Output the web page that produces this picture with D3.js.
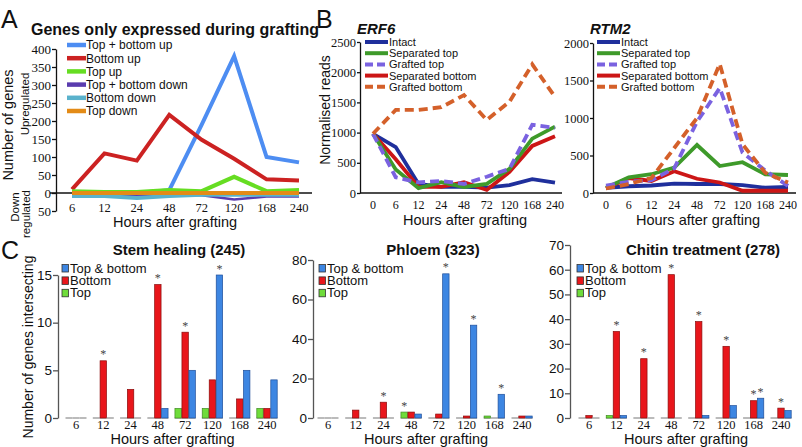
<!DOCTYPE html>
<html><head><meta charset="utf-8">
<script src="https://cdn.jsdelivr.net/npm/d3@7"></script>
<style>
body{margin:0;background:#fff}
svg{display:block}
text{font-family:"Liberation Sans",Arial,sans-serif;fill:#111}
</style></head><body>
<svg id="c" width="802" height="447"></svg>
<script>
const SERIF = '"Liberation Serif","Times New Roman",serif';
// ---------- Panel A data ----------
const hoursA = ["6","12","24","48","72","120","168","240"];
const namesA = ["Top + bottom up","Bottom up","Top up","Top + bottom down","Bottom down","Top down"];
const colorsA = ["#4d8df2","#cc2222","#66dd22","#5a3cae","#5ab2cc","#e38b17"];
const topBottomUp   = [0,0,0,8,190,380,100,85];
const bottomUp      = [10,110,90,217,148,95,38,35];
const topUp         = [5,3,3,8,5,45,5,8];
const topBottomDown = [-5,-5,-5,-5,-6,-18,-10,-10];
const bottomDown    = [-8,-8,-14,-8,-5,-5,-5,-5];
const topDown       = [0,0,0,0,0,0,0,0];
const ticksA = [-50,0,50,100,150,200,250,300,350,400];

// ---------- Panel B data ----------
const hoursB = ["0","6","12","24","48","72","120","168","240"];
const namesB = ["Intact","Separated top","Grafted top","Separated bottom","Grafted bottom"];
const colorsB = ["#1f2f9c","#3e9a2a","#7a62e0","#cc1616","#d4602a"];
const dashedB = [false,false,true,false,true];
const erf6Intact    = [980,760,150,100,100,90,130,230,170];
const erf6SepTop    = [980,390,80,180,100,150,400,900,1100];
const erf6GrTop     = [980,260,175,200,150,270,400,1130,1080];
const erf6SepBottom = [980,560,100,100,180,50,350,780,940];
const erf6GrBottom  = [980,1375,1375,1420,1620,1210,1510,2130,1590];
const rtmIntact     = [70,90,100,125,120,120,105,70,80];
const rtmSepTop     = [70,210,250,340,640,360,410,250,240];
const rtmGrTop      = [100,150,170,330,950,1400,540,300,95];
const rtmSepBottom  = [60,200,160,290,190,140,30,30,30];
const rtmGrBottom   = [60,120,200,600,1000,1720,650,270,140];
const ticksERF6 = [0,500,1000,1500,2000,2500];
const ticksRTM2 = [0,500,1000,1500,2000];

// ---------- Panel C data ----------
const hoursC = ["6","12","24","48","72","120","168","240"];
const groupsC = ["Top","Bottom","Top & bottom"];
const colorsC = {"Top":"#6fdc3a","Bottom":"#e8161b","Top & bottom":"#3d86e2"};
const edgesC  = {"Top":"#3f8a22","Bottom":"#8a0c0c","Top & bottom":"#1f4f9a"};
const stemTop    = [0,0,0,0,1,1,0,1];
const stemBottom = [0,6,3,14,9,4,2,1];
const stemBoth   = [0,0,0,1,5,15,5,4];
const stemStars  = [[],["Bottom"],[],["Bottom"],["Bottom"],["Top & bottom"],[],[]];
const phlTop     = [0,0,0,3,0,0,1,0];
const phlBottom  = [0,4,8,3,2,1,0,1];
const phlBoth    = [0,0,0,2,73,47,12,1];
const phlStars   = [[],[],["Bottom"],["Top"],["Top & bottom"],["Top & bottom"],["Top & bottom"],[]];
const chiTop     = [0,1,0,0,0,0,0,0];
const chiBottom  = [1,35,24,58,39,29,7,4];
const chiBoth    = [0,1,0,0,1,5,8,3];
const chiStars   = [[],["Bottom"],["Bottom"],["Bottom"],["Bottom"],["Bottom"],["Bottom","Top & bottom"],["Bottom"]];
const ticksStem = [0,5,10,15];
const ticksPhl  = [0,20,40,60,80];
const ticksChi  = [0,10,20,30,40,50,60,70];

const svg = d3.select("#c");

function txt(x,y,s,size,opts={}){
  const t = svg.append("text").attr("x",x).attr("y",y).text(s).attr("font-size",size);
  if(opts.anchor) t.attr("text-anchor",opts.anchor);
  if(opts.bold) t.attr("font-weight","bold");
  if(opts.italic) t.attr("font-style","italic");
  if(opts.serif) t.style("font-family",SERIF);
  if(opts.rot) t.attr("transform",`rotate(-90,${x},${y})`);
  if(opts.fill) t.style("fill",opts.fill);
  return t;
}
function styleAxis(ax, col, size, serif, dx){
  ax.select(".domain").attr("stroke",col).attr("stroke-width",1.3);
  ax.selectAll(".tick line").attr("stroke",col).attr("stroke-width",1.3);
  const t = ax.selectAll(".tick text").attr("font-size",size).attr("x",dx);
  t.style("fill","#111");
  if(serif) t.style("font-family",SERIF);
}

// ================= Panel A =================
txt(1,28,"A",25);
txt(31,35,"Genes only expressed during grafting",16,{bold:true});
{
  const x = d3.scalePoint().domain(hoursA).range([72,299]);
  const y = d3.scaleLinear().domain([-50,400]).range([211,49]);
  const g = svg.append("g");
  const ax = g.append("g").attr("transform","translate(56,0)")
    .call(d3.axisLeft(y).tickValues(ticksA).tickSize(4).tickSizeOuter(0).tickFormat(d=>Math.abs(d)));
  styleAxis(ax,"#111",13,true,-5);
  g.append("line").attr("x1",50).attr("x2",312).attr("y1",y(0)).attr("y2",y(0)).attr("stroke","#111").attr("stroke-width",1.5);
  const seriesA = [topBottomUp,bottomUp,topUp,topBottomDown,bottomDown,topDown];
  const line = d3.line().x((d,i)=>x(hoursA[i])).y(d=>y(d));
  [3,4,0,1,2,5].forEach(k=>{
    g.append("path").attr("d",line(seriesA[k])).attr("fill","none")
     .attr("stroke",colorsA[k]).attr("stroke-width",k===3?2.5:4).attr("stroke-linejoin","miter");
  });
  hoursA.forEach(h=>txt(x(h),212,h,12.5,{anchor:"middle",serif:true}));
  txt(175,227,"Hours after grafting",14.5,{anchor:"middle"});
  namesA.forEach((n,i)=>{
    const cy = 45+13.2*i;
    g.append("line").attr("x1",67).attr("x2",86).attr("y1",cy).attr("y2",cy).attr("stroke",colorsA[i]).attr("stroke-width",4.5);
    txt(86,cy+4.3,n,12);
  });
  txt(13,125,"Number of genes",14.5,{anchor:"middle",rot:true});
  txt(29,104,"Upregulated",11.5,{anchor:"middle",rot:true});
  txt(19,207,"Down",11.5,{anchor:"middle",rot:true});
  txt(30,214,"regulated",11.5,{anchor:"middle",rot:true});
}

// ================= Panel B =================
txt(316,28,"B",25);
function linePanel(axisX, x0, x1, ymax, yTop, ticks, data, title, titleX, legX, lineEnd){
  const x = d3.scalePoint().domain(hoursB).range([x0,x1]);
  const y = d3.scaleLinear().domain([0,ymax]).range([193,yTop]);
  const g = svg.append("g");
  const ax = g.append("g").attr("transform",`translate(${axisX},0)`)
    .call(d3.axisLeft(y).tickValues(ticks).tickSize(3).tickSizeOuter(0).tickFormat(d3.format("d")));
  styleAxis(ax,"#111",12.5,true,-4);
  g.append("line").attr("x1",axisX).attr("x2",lineEnd).attr("y1",193).attr("y2",193).attr("stroke","#111").attr("stroke-width",1.3);
  const line = d3.line().x((d,i)=>x(hoursB[i])).y(d=>y(d));
  [0,3,1,2,4].forEach(k=>{
    const p = g.append("path").attr("d",line(data[k])).attr("fill","none")
      .attr("stroke",colorsB[k]).attr("stroke-width",3.8);
    if(dashedB[k]) p.attr("stroke-dasharray","9,5");
  });
  hoursB.forEach(h=>txt(x(h),209,h,12,{anchor:"middle",serif:true}));
  txt((x0+x1)/2+1,225,"Hours after grafting",14.5,{anchor:"middle"});
  txt(titleX,34,title,15,{bold:true,italic:true});
  namesB.forEach((n,i)=>{
    const cy = 42+11.2*i;
    const l = g.append("line").attr("x1",legX).attr("x2",legX+23).attr("y1",cy).attr("y2",cy)
      .attr("stroke",colorsB[i]).attr("stroke-width",4);
    if(dashedB[i]) l.attr("stroke-dasharray","8,4");
    txt(legX+24,cy+4,n,11);
  });
}
linePanel(360,373,555,2500,42,ticksERF6,[erf6Intact,erf6SepTop,erf6GrTop,erf6SepBottom,erf6GrBottom],"ERF6",357,365,562);
linePanel(593,606,788,2000,43,ticksRTM2,[rtmIntact,rtmSepTop,rtmGrTop,rtmSepBottom,rtmGrBottom],"RTM2",590,597,796);
txt(330,110,"Normalised reads",14,{anchor:"middle",rot:true});

// ================= Panel C =================
txt(1,259,"C",25);
function barPanel(axisX, yTop, ymax, ticks, c0, c1, top, bottom, both, stars, title, titleX, legX){
  const x = d3.scalePoint().domain(hoursC).range([c0,c1]);
  const xs = d3.scaleBand().domain(groupsC).range([-10.5,10.5]);
  const y = d3.scaleLinear().domain([0,ymax]).range([418,yTop]);
  const g = svg.append("g");
  const ax = g.append("g").attr("transform",`translate(${axisX},0)`)
    .call(d3.axisLeft(y).tickValues(ticks).tickSize(5).tickSizeOuter(0));
  styleAxis(ax,"#555",13.5,false,-6);
  const vals = {"Top":top,"Bottom":bottom,"Top & bottom":both};
  hoursC.forEach((h,i)=>{
    groupsC.forEach(gname=>{
      const v = vals[gname][i];
      const bx = x(h)+xs(gname);
      g.append("line").attr("x1",bx).attr("x2",bx+xs.bandwidth()).attr("y1",y(0)).attr("y2",y(0))
        .attr("stroke","#aaa").attr("stroke-width",1.6);
      if(v>0){
        g.append("rect").attr("x",bx+0.3).attr("width",xs.bandwidth()-0.6)
          .attr("y",y(v)).attr("height",y(0)-y(v))
          .attr("fill",colorsC[gname]).attr("stroke",edgesC[gname]).attr("stroke-width",0.7);
      }
    });
    stars[i].forEach(gname=>{
      const v = vals[gname][i];
      txt(x(h)+xs(gname)+xs.bandwidth()/2, y(v)-2.5, "*", 12, {anchor:"middle",serif:true,fill:"#444"});
    });
  });
  hoursC.forEach(h=>txt(x(h),429,h,12.5,{anchor:"middle",serif:true}));
  txt((c0+c1)/2+1,444,"Hours after grafting",14.5,{anchor:"middle"});
  txt(titleX,255,title,15,{bold:true,anchor:"middle"});
  const leg = ["Top & bottom","Bottom","Top"];
  leg.forEach((n,i)=>{
    const cy = 268+12.4*i;
    g.append("rect").attr("x",legX).attr("y",cy-3.5).attr("width",6.5).attr("height",7.5)
      .attr("fill",colorsC[n]).attr("stroke","#333").attr("stroke-width",0.8);
    txt(legX+8,cy+4.6,n,13);
  });
}
barPanel(58,275,15,ticksStem,76,267,stemTop,stemBottom,stemBoth,stemStars,"Stem healing (245)",179,62);
barPanel(313,260,80,ticksPhl,328,522,phlTop,phlBottom,phlBoth,phlStars,"Phloem (323)",433,319);
barPanel(570,245,70,ticksChi,589,781,chiTop,chiBottom,chiBoth,chiStars,"Chitin treatment (278)",703,577);
txt(33,347,"Number of genes intersecting",14,{anchor:"middle",rot:true});
</script>
</body></html>
